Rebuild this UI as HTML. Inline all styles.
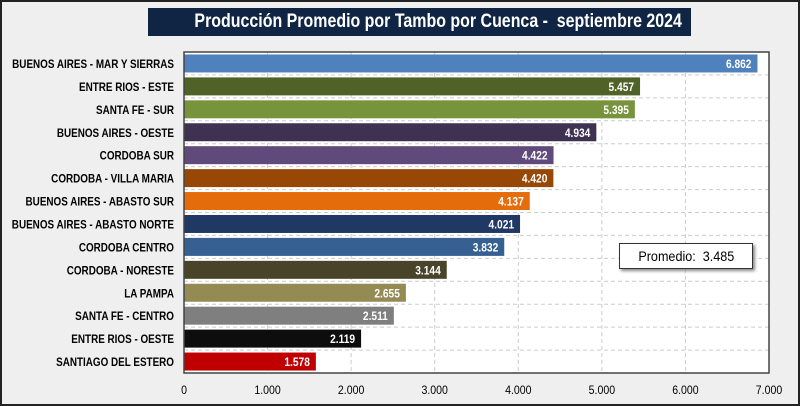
<!DOCTYPE html>
<html><head><meta charset="utf-8"><style>
body{margin:0;width:800px;height:406px;overflow:hidden;background:#fff;font-family:"Liberation Sans",sans-serif}
#frame{position:absolute;left:0;top:0;border:2px solid #222;background:#efefef;box-sizing:border-box;width:800px;height:406px}
#title{position:absolute;left:148px;top:8px;width:543px;height:28px;background:#0f2543;color:#fff;font-weight:bold;font-size:19px;line-height:28px;text-align:center;white-space:nowrap;overflow:hidden}
#title span{display:inline-block;transform:scaleX(0.84);transform-origin:center}
#prom{position:absolute;left:619px;top:243px;width:134px;height:26px;background:#fff;border:1px solid #333;box-shadow:2px 2px 3px #888;box-sizing:border-box;font-size:14px;line-height:24px;text-align:center}
#prom span{display:inline-block;transform:scaleX(0.9)}
</style></head><body>
<div id="frame"></div>
<svg id="chart" width="800" height="406" style="position:absolute;left:0;top:0"></svg>
<div id="title"><span>Producción Promedio por Tambo por Cuenca -&nbsp; septiembre 2024</span></div>
<div id="prom"><span>Promedio:&nbsp; 3.485</span></div>
<script>
const categories=["BUENOS AIRES - MAR Y SIERRAS","ENTRE RIOS - ESTE","SANTA FE - SUR","BUENOS AIRES - OESTE","CORDOBA SUR","CORDOBA - VILLA MARIA","BUENOS AIRES - ABASTO SUR","BUENOS AIRES - ABASTO NORTE","CORDOBA CENTRO","CORDOBA - NORESTE","LA PAMPA","SANTA FE - CENTRO","ENTRE RIOS - OESTE","SANTIAGO DEL ESTERO"];
const values=[6862,5457,5395,4934,4422,4420,4137,4021,3832,3144,2655,2511,2119,1578];
const valueLabels=["6.862","5.457","5.395","4.934","4.422","4.420","4.137","4.021","3.832","3.144","2.655","2.511","2.119","1.578"];
const colors=["#4f81bd","#4f6228","#77933c","#3f3151","#604a7b","#974806","#e46c0a","#1f3864","#366092","#494429","#948a54","#7f7f7f","#0d0d0d","#c00000"];
const ticks=[0,1000,2000,3000,4000,5000,6000,7000];
const tickLabels=["0","1.000","2.000","3.000","4.000","5.000","6.000","7.000"];
const X0=184,X1=769,Y0=52,Y1=373,maxV=7000;
const x=v=>X0+(X1-X0)*v/maxV;
const pitch=(Y1-Y0)/categories.length;
const y=i=>Y0+pitch*(i+0.5);
const svg=document.getElementById('chart');const NS="http://www.w3.org/2000/svg";
function mk(t,a){const e=document.createElementNS(NS,t);for(const k in a)e.setAttribute(k,a[k]);svg.appendChild(e);return e;}
let r=mk('rect',{x:X0,y:Y0,width:X1-X0,height:Y1-Y0,fill:'#fff'});


for(let i=1;i<categories.length;i++){let l=mk('line',{x1:X0,x2:X1,y1:Y0+pitch*i,y2:Y0+pitch*i,stroke:'#ccc','stroke-dasharray':'4,3'});

}
ticks.forEach((t,i)=>{if(i>0&&i<ticks.length-1){let l=mk('line',{x1:x(t),x2:x(t),y1:Y0,y2:Y1,stroke:'#ccc','stroke-dasharray':'4,3'});

}
let tx=mk('text',{x:0,y:0,transform:`translate(${x(t)},394) scale(0.88,1)`,'text-anchor':'middle','font-size':12,fill:'#000'});tx.textContent=tickLabels[i];

});
categories.forEach((c,i)=>{const cy=y(i);
let b=mk('rect',{x:X0,y:cy-9,width:x(values[i])-X0,height:18,fill:colors[i]});


let v=mk('text',{x:0,y:0,transform:`translate(${x(values[i])-6},${cy+4.5}) scale(0.85,1)`,'text-anchor':'end','font-size':12,'font-weight':'bold',fill:'#fff'});v.textContent=valueLabels[i];


let t=mk('text',{x:0,y:0,transform:`translate(174,${cy+4.5}) scale(0.86,1)`,'text-anchor':'end','font-size':11.5,'font-weight':'bold',fill:'#000'});t.textContent=c;

});
let bd=mk('rect',{x:X0,y:Y0,width:X1-X0,height:Y1-Y0,fill:'none',stroke:'#444','stroke-width':1.5});


</script>
</body></html>
